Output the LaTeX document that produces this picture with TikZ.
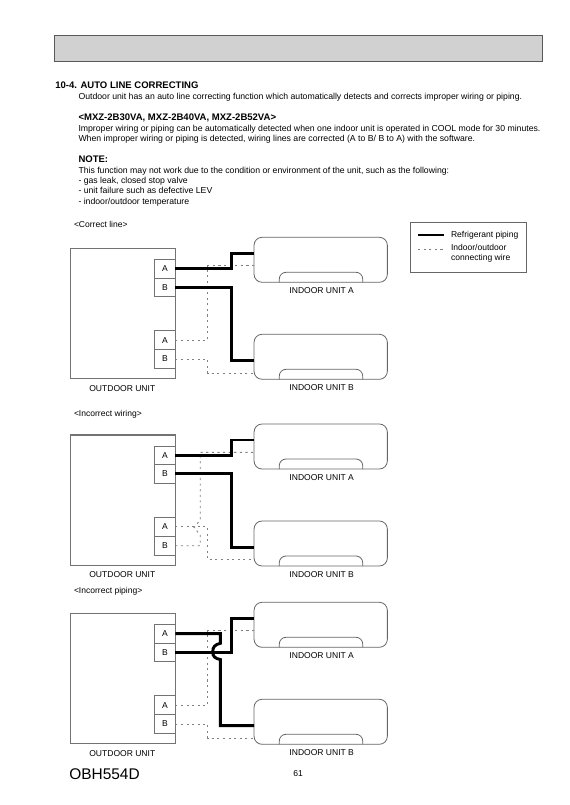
\documentclass[tikz,border=0pt]{standalone}
\usepackage{fontspec}
\setmainfont{Liberation Sans}
\def\px{0.75pt}
\tikzset{
  txt/.style={anchor=base west,inner sep=0pt,outer sep=0pt,font=\fontsize{6.52pt}{8pt}\selectfont},
  lab/.style={anchor=base west,inner sep=0pt,outer sep=0pt,font=\fontsize{6.4pt}{8pt}\selectfont},
  bold/.style={txt,font=\fontsize{7.15pt}{8pt}\selectfont\bfseries},
  ctr/.style={lab,anchor=base},
  unitbox/.style={draw=black!55,line width=0.8pt,inner sep=0pt,outer sep=0pt,fill=white},
  term/.style={draw=black!55,line width=0.6pt,inner sep=0pt,outer sep=0pt,minimum width=20.6*\px,fill=white,font=\fontsize{6.4pt}{8pt}\selectfont},
  indoor/.style={draw=black!60,line width=0.6pt,rounded corners=6pt,inner sep=0pt,outer sep=0pt,minimum width=133.3*\px,minimum height=45*\px},
  bump/.style={draw=black!60,line width=0.6pt,rounded corners=5pt},
  pipe/.style={line width=2.2pt,black,line join=miter},
  wire/.style={line width=0.65pt,black!50,dash pattern=on 1.6pt off 2.6pt},
}
% one set of outdoor and indoor units, shifted down by #2
\newcommand{\unitset}[2]{
  \node[unitbox,minimum width=105*\px,minimum height=130.4*\px] (#1-o) at (122.8,313.5+#2) {};
  \node[term,minimum height=18.6*\px] (#1-ta) at (165,268.6+#2) {A};
  \node[term,minimum height=18.6*\px] (#1-tb) at (165,287.2+#2) {B};
  \node[term,minimum height=19*\px] (#1-la) at (165,340.2+#2) {A};
  \node[term,minimum height=18.6*\px] (#1-lb) at (165,359+#2) {B};
  \node[indoor] (#1-ia) at (320.7,259.8+#2) {};
  \node[indoor] (#1-ib) at (320.7,356.8+#2) {};
  \draw[bump] (279.3,282.3+#2) -- (279.3,272.3+#2) -- (362.7,272.3+#2) -- (362.7,282.3+#2);
  \draw[bump] (279.3,379.3+#2) -- (279.3,369.3+#2) -- (362.7,369.3+#2) -- (362.7,379.3+#2);
  \node[ctr] (#1-ot) at (122.3,391+#2) {OUTDOOR UNIT};
  \node[ctr] (#1-at) at (321.7,293.3+#2) {INDOOR UNIT A};
  \node[ctr] (#1-bt) at (321.7,390.3+#2) {INDOOR UNIT B};
  \coordinate (#1-pa) at (254,253.3+#2);
  \coordinate (#1-pb) at (254,360.7+#2);
  \coordinate (#1-wa) at (254,265.7+#2);
  \coordinate (#1-wb) at (254,373+#2);
}
\begin{document}
\begin{tikzpicture}[x=0.75pt,y=-0.75pt]
\useasboundingbox (0,0) rectangle (569,805);
\fill[white] (0,0) rectangle (569,805);
\node[draw=black!65,line width=0.8pt,fill=black!18,inner sep=0pt,minimum width=487.7*\px,minimum height=26.4*\px] (hdr) at (298.2,48.5) {};
\node[bold] (t1) at (55.3,89) {10-4. AUTO LINE CORRECTING};
\node[txt] (t2) at (78.5,100) {Outdoor unit has an auto line correcting function which automatically detects and corrects improper wiring or piping.};
\node[bold] (t3) at (78.5,121) {<MXZ-2B30VA, MXZ-2B40VA, MXZ-2B52VA>};
\node[txt] (t4) at (78.5,131.7) {Improper wiring or piping can be automatically detected when one indoor unit is operated in COOL mode for 30 minutes.};
\node[txt] (t5) at (78.5,142) {When improper wiring or piping is detected, wiring lines are corrected (A to B/ B to A) with the software.};
\node[bold] (t6) at (78.5,163) {NOTE:};
\node[txt] (t7) at (78.5,173.3) {This function may not work due to the condition or environment of the unit, such as the following:};
\node[txt] (t8) at (78.5,183.7) {- gas leak, closed stop valve};
\node[txt] (t9) at (78.5,194) {- unit failure such as defective LEV};
\node[txt] (t10) at (78.5,204.3) {- indoor/outdoor temperature};
% legend
\node[draw=black!60,line width=0.6pt,inner sep=0pt,minimum width=116*\px,minimum height=50*\px] (leg) at (468.7,247.3) {};
\coordinate (lp1) at (418,235); \coordinate (lp2) at (443.7,235);
\coordinate (lw1) at (418,249); \coordinate (lw2) at (443.7,249);
\draw[pipe] (lp1) -- (lp2);
\draw[wire] (lw1) -- (lw2);
\node[lab] (l1) at (451,237.7) {Refrigerant piping};
\node[lab] (l2) at (451,250.5) {Indoor/outdoor};
\node[lab] (l3) at (451,261) {connecting wire};
% titles
\node[lab] (c1) at (74,228) {<Correct line>};
\node[lab] (c2) at (74,416) {<Incorrect wiring>};
\node[lab] (c3) at (74,593.7) {<Incorrect piping>};
% correct line
\unitset{a}{0}
\draw[wire] (a-la.east) -- (207.7,340.2) -- (207.7,265.7) -- (a-wa);
\draw[wire] (a-lb.east) -- (207.7,359) -- (207.7,373) -- (a-wb);
\draw[pipe] (a-ta.east) -- (231.3,268.6) -- (231.3,253.3) -- (a-pa);
\draw[pipe] (a-tb.east) -- (231.3,287.2) -- (231.3,360.7) -- (a-pb);
% incorrect wiring
\unitset{b}{186.7}
\draw[wire] (b-la.east) -- (207.7,526.9) -- (207.7,559.7) -- (b-wb);
\draw[wire] (b-lb.east) -- (200.3,545.7) -- (200.3,535) -- (194,527.5) -- (200.3,520) -- (200.3,452.4) -- (b-wa);
\draw[pipe] (b-ta.east) -- (231.3,455.3) -- (231.3,440) -- (b-pa);
\draw[pipe] (b-tb.east) -- (231.3,473.9) -- (231.3,547.4) -- (b-pb);
% incorrect piping
\unitset{c}{365}
\draw[wire] (c-la.east) -- (207.7,705.2) -- (207.7,630.7) -- (c-wa);
\draw[wire] (c-lb.east) -- (207.7,724) -- (207.7,738) -- (c-wb);
\draw[pipe] (c-tb.east) -- (231.3,652.2) -- (231.3,618.3) -- (c-pa);
\draw[pipe] (c-ta.east) -- (220.3,633.6) -- (220.3,643.3) .. controls (215,644.5) and (212.7,647) .. (212.7,651.8) .. controls (212.7,656.5) and (215,658.5) .. (220.3,659.5) -- (220.3,725.7) -- (c-pb);
% footer
\node[anchor=base west,inner sep=0pt,font=\fontsize{11.6pt}{14pt}\selectfont] (obh) at (69,779) {OBH554D};
\node[ctr] (pg) at (298,776) {61};
\end{tikzpicture}
\end{document}
